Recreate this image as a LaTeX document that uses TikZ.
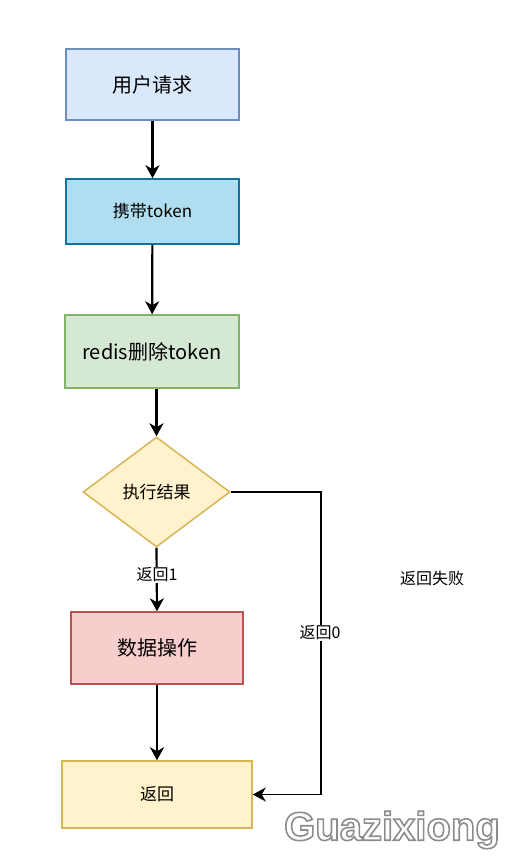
\documentclass[tikz,border=0pt]{standalone}
\usepackage{fontspec}
\setmainfont{Noto Sans CJK SC}
\newfontfamily\wmfont{Liberation Sans}[BoldFont={* Bold}]
\usetikzlibrary{shapes.geometric,arrows.meta}
\definecolor{b1f}{HTML}{DAE8FC}\definecolor{b1d}{HTML}{6C8EBF}
\definecolor{b2f}{HTML}{B1DDF0}\definecolor{b2d}{HTML}{10739E}
\definecolor{b3f}{HTML}{D5E8D4}\definecolor{b3d}{HTML}{82B366}
\definecolor{yf}{HTML}{FFF2CC}\definecolor{yd}{HTML}{D6B656}
\definecolor{rf}{HTML}{F8CECC}\definecolor{rd}{HTML}{B85450}
\begin{document}
\begin{tikzpicture}[x=1pt,y=-1pt,
  box/.style={draw,rectangle,line width=1.5pt,inner sep=0pt,align=center},
  flow/.style={line width=2.2pt,-{Stealth[length=13pt,width=14pt,inset=4pt]}},
  lbl/.style={fill=white,inner sep=1pt,font=\fontsize{16}{18}\selectfont}]
\path[use as bounding box] (0,0) rectangle (510,862);
\node[box,fill=b1f,draw=b1d,minimum width=173pt,minimum height=71pt,font=\fontsize{20}{22}\selectfont] (b1) at (152.5,84.5) {用户请求};
\node[box,fill=b2f,draw=b2d,minimum width=173pt,minimum height=65pt,font=\fontsize{17}{19}\selectfont] (b2) at (152.5,211.5) {携带token};
\node[box,fill=b3f,draw=b3d,minimum width=174pt,minimum height=73pt,font=\fontsize{20}{22}\selectfont] (b3) at (152,351.5) {redis删除token};
\node[diamond,draw=yd,fill=yf,line width=1.5pt,inner sep=0pt,minimum width=147pt,minimum height=110pt,font=\fontsize{17}{19}\selectfont] (d) at (156.5,492) {执行结果};
\node[box,fill=rf,draw=rd,minimum width=172pt,minimum height=72pt,font=\fontsize{20}{22}\selectfont] (b5) at (157,648) {数据操作};
\node[box,fill=yf,draw=yd,minimum width=190pt,minimum height=67pt,font=\fontsize{17}{19}\selectfont] (b6) at (157,794.5) {返回};
\coordinate (c1) at (321,492);
\draw[flow] (b1) -- (b2);
\draw[flow] (b2) -- (b3);
\draw[flow] (d.north |- b3.south) -- (d.north);
\draw[flow] (d.south) -- (b5.north);
\draw[flow] (b5.south) -- (b6.north);
\draw[flow,line width=1.8pt] (d.east) -- (c1) |- (b6.east);
\node[lbl] (l1) at (157,575) {返回1};
\node[lbl] (l0) at (320,633) {返回0};
\node[font=\fontsize{16}{18}\selectfont,inner sep=0pt] (fail) at (432,578) {返回失败};
\node[font=\wmfont\bfseries\fontsize{40}{44}\selectfont,text=white,inner sep=0pt] (wm) at (392,830) {\special{pdf:literal direct 2 Tr 1.6 w 0.55 G}Guazixiong\special{pdf:literal direct 0 Tr}};
\end{tikzpicture}
\end{document}
